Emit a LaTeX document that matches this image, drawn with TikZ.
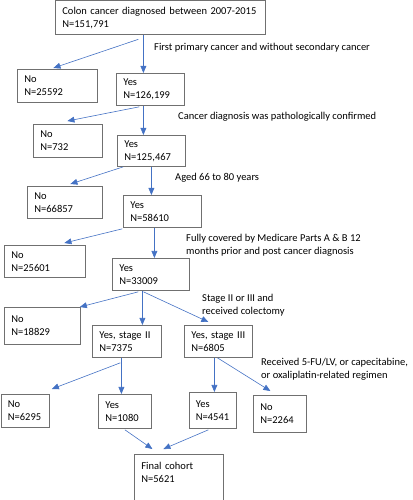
\documentclass[tikz,border=0pt]{standalone}
\usepackage{fontspec}
\setmainfont{Carlito}
\usepackage{tikz}
\usetikzlibrary{arrows}

\definecolor{boxgray}{RGB}{112,112,112}
\definecolor{flowblue}{RGB}{68,114,196}

\begin{document}
\begin{tikzpicture}[x=1pt,y=-1pt,>=triangle 45,
  box node/.style={draw=boxgray,line width=0.8pt,anchor=north west,align=left,
    inner xsep=7pt,inner ysep=0pt,font=\fontsize{10.5}{13}\selectfont},
  label node/.style={anchor=west,align=left,inner sep=0pt,
    font=\fontsize{10.5}{13}\selectfont},
  flow/.style={->,draw=flowblue,line width=0.6pt}]

  \useasboundingbox (0,0) rectangle (412,500);

  % boxes
  \node[box node,text width=196,minimum height=34] (start) at (55,0.5) {Colon cancer diagnosed between 2007-2015\\N=151,791};
  \node[box node,text width=66,minimum height=33] (no1) at (17,69) {No\\N=25592};
  \node[box node,text width=54,minimum height=32] (yes1) at (116,73) {Yes\\N=126,199};
  \node[box node,text width=55,minimum height=33] (no2) at (33,124) {No\\N=732};
  \node[box node,text width=54,minimum height=31] (yes2) at (117,135) {Yes\\N=125,467};
  \node[box node,text width=61,minimum height=32] (no3) at (27,186) {No\\N=66857};
  \node[box node,text width=64,minimum height=32] (yes3) at (123,195) {Yes\\N=58610};
  \node[box node,text width=67,minimum height=32] (no4) at (4,245) {No\\N=25601};
  \node[box node,text width=63,minimum height=32] (yes4) at (112,258) {Yes\\N=33009};
  \node[box node,text width=62,minimum height=37] (no5) at (4,307) {No\\N=18829};
  \node[box node,text width=55,minimum height=32] (stage2) at (92,325) {Yes, stage II\\N=7375};
  \node[box node,text width=54,minimum height=32] (stage3) at (184,325) {Yes, stage III\\N=6805};
  \node[box node,text width=34,minimum height=33] (no6) at (0.5,394) {No\\N=6295};
  \node[box node,text width=39,minimum height=34] (yes7) at (98,394) {Yes\\N=1080};
  \node[box node,text width=34,minimum height=36,inner xsep=6.5pt] (yes8) at (189,392) {Yes\\N=4541};
  \node[box node,text width=39,minimum height=37] (no7) at (253,395) {No\\N=2264};
  \node[box node,text width=75,minimum height=45.5,text depth=23.5pt] (final) at (134,454) {Final cohort\\N=5621};

  % criteria
  \node[label node] (crit1) at (154,48) {First primary cancer and without secondary cancer};
  \node[label node] (crit2) at (178,117) {Cancer diagnosis was pathologically confirmed};
  \node[label node] (crit3) at (175,178) {Aged 66 to 80 years};
  \node[label node] (crit4) at (186,245) {Fully covered by Medicare Parts A \& B 12\\months prior and post cancer diagnosis};
  \node[label node] (crit5) at (202,305) {Stage II or III and\\received colectomy};
  \node[label node] (crit6) at (261,369) {Received 5-FU/LV, or capecitabine,\\or oxaliplatin-related regimen};

  % arrows
  \draw[flow] ([xshift=-17pt]start.south) -- ([xshift=-7pt]yes1.north);
  \draw[flow] ([xshift=-22pt,yshift=-4pt]start.south) -- ([xshift=-4pt,yshift=1pt]no1.north);
  \draw[flow] ([xshift=-7pt]yes1.south) -- ([xshift=-8pt]yes2.north);
  \draw[flow] ([xshift=-11pt,yshift=-1pt]yes1.south) -- ([xshift=-0.5pt,yshift=3pt]no2.north);
  \draw[flow] (yes2.south) -- ([xshift=-11pt]yes3.north);
  \draw[flow] ([xshift=-28pt]yes2.south) -- ([xshift=5.5pt,yshift=2pt]no3.north);
  \draw[flow] ([xshift=-8pt]yes3.south) -- ([xshift=3.5pt]yes4.north);
  \draw[flow] ([xshift=-40pt,yshift=-1pt]yes3.south) -- ([xshift=19.5pt,yshift=2pt]no4.north);
  \draw[flow] ([xshift=-8.5pt]yes4.south) -- ([xshift=15.5pt]stage2.north);
  \draw[flow] ([xshift=-12.5pt,yshift=-1pt]yes4.south) -- ([xshift=-1pt]no5.north east);
  \draw[flow] ([xshift=-7.5pt,yshift=-1pt]yes4.south) -- ([xshift=-10pt,yshift=3pt]stage3.north);
  \draw[flow] ([xshift=-6.5pt,yshift=-5pt]stage2.south) -- ([xshift=2.5pt,yshift=5pt]no6.north east);
  \draw[flow] ([xshift=-5.5pt]stage2.south) -- ([xshift=-3.5pt]yes7.north);
  \draw[flow] ([xshift=-4pt]stage3.south) -- ([xshift=1.5pt]yes8.north);
  \draw[flow] ([xshift=-1pt]stage3.south) -- ([xshift=-9.5pt,yshift=4pt]no7.north);
  \draw[flow] ([yshift=-1pt]yes7.south) -- ([xshift=-26.5pt,yshift=5pt]final.north);
  \draw[flow] ([xshift=-4.5pt,yshift=-1pt]yes8.south) -- ([xshift=-15.5pt,yshift=5pt]final.north);
\end{tikzpicture}
\end{document}
